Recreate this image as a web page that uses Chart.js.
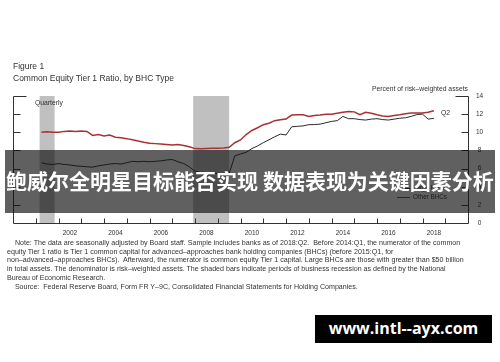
<!DOCTYPE html>
<html><head><meta charset="utf-8">
<script src="https://cdn.jsdelivr.net/npm/chart.js@4.4.1/dist/chart.umd.min.js"></script>
<style>
html,body{margin:0;padding:0;background:#fff;}
body{width:500px;height:362px;position:relative;overflow:hidden;font-family:"Liberation Sans",Arial,sans-serif;color:#333;}
#c{position:absolute;left:0;top:0;width:500px;height:362px;}
.t{position:absolute;white-space:nowrap;line-height:1;}
.note{position:absolute;left:7px;top:239px;font-size:7.1px;line-height:8.7px;color:#333;white-space:nowrap;}
.lg{position:absolute;font-size:6.3px;color:#333;white-space:nowrap;line-height:1;}
.lg i{display:inline-block;width:13px;height:1.5px;vertical-align:middle;margin-right:3px;}
</style></head><body>
<canvas id="c" width="500" height="362"></canvas>
<div class="t" style="left:13px;top:62px;font-size:8.5px;">Figure 1</div>
<div class="t" style="left:13px;top:73.5px;font-size:8.5px;">Common Equity Tier 1 Ratio, by BHC Type</div>
<div class="t" style="left:35px;top:99.5px;font-size:6.8px;">Quarterly</div>
<div class="t" style="right:32px;top:86px;font-size:6.8px;">Percent of risk–weighted assets</div>
<div class="t" style="left:441px;top:109.5px;font-size:6.8px;">Q2</div>
<div class="lg" style="left:397px;top:185px;"><i style="background:#222"></i>Large BHCs</div>
<div class="lg" style="left:397px;top:194px;"><i style="background:#a83232"></i>Other BHCs</div>
<div class="note">
&nbsp;&nbsp;&nbsp;&nbsp;Note: The data are seasonally adjusted by Board staff. Sample includes banks as of 2018:Q2.&nbsp; Before 2014:Q1, the numerator of the common<br>
equity Tier 1 ratio is Tier 1 common capital for advanced–approaches bank holding companies (BHCs) (before 2015:Q1, for<br>
non–advanced–approaches BHCs).&nbsp; Afterward, the numerator is common equity Tier 1 capital. Large BHCs are those with greater than $50 billion<br>
in total assets. The denominator is risk–weighted assets. The shaded bars indicate periods of business recession as defined by the National<br>
Bureau of Economic Research.<br>
&nbsp;&nbsp;&nbsp;&nbsp;Source:&nbsp; Federal Reserve Board, Form FR Y–9C, Consolidated Financial Statements for Holding Companies.
</div>
<div style="position:absolute;left:5px;top:150px;width:490px;height:63px;background:rgba(18,18,18,0.67);"></div>
<div class="t" style="left:0;width:500px;text-align:center;top:170px;font-size:21px;font-weight:bold;color:#fff;font-family:'Noto Sans CJK SC',sans-serif;">鲍威尔全明星目标能否实现 数据表现为关键因素分析</div>
<div style="position:absolute;left:315px;top:315px;width:177px;height:28px;background:#000;"></div>
<div class="t" style="left:315px;width:177px;text-align:center;top:320px;font-size:16px;font-weight:bold;color:#fff;font-family:'Open Sans',sans-serif;">www.intl--ayx.com</div>
<script>
// ---- data ----
const startYear = 2001, startQuarter = 1, endYear = 2018, endQuarter = 2;
const largeBHCs = [6.65,6.5,6.45,6.55, 6.45,6.4,6.3,6.25, 6.2,6.15,6.3,6.4, 6.5,6.55,6.5,6.65,
  6.8,6.75,6.8,6.75, 6.8,6.85,6.95,7.0, 6.75,6.55,6.2,5.7, 5.6,5.55,5.5,5.45,
  5.42,5.45,7.4,7.6, 7.8,8.2,8.5,8.85, 9.17,9.5,9.8,9.7, 10.6,10.66,10.7,10.84,
  10.85,10.9,11.05,11.2, 11.28,11.75,11.5,11.5, 11.4,11.35,11.45,11.5, 11.4,11.35,11.45,11.55,
  11.6,11.75,11.95,12.0, 11.45,11.55];
const otherBHCs = [10.0,10.05,10.0,10.0, 10.1,10.15,10.1,10.15, 10.1,9.65,9.75,9.6, 9.7,9.45,9.4,9.3,
  9.17,9.05,8.9,8.8, 8.75,8.7,8.65,8.6, 8.65,8.55,8.4,8.2, 8.18,8.22,8.25,8.25,
  8.28,8.35,8.85,9.15, 9.75,10.2,10.5,10.84, 11.0,11.28,11.38,11.46, 11.9,11.92,11.94,11.75,
  11.85,11.9,12.0,12.0, 12.1,12.2,12.3,12.25, 11.94,12.2,12.1,11.94, 11.8,11.75,11.85,11.94,
  12.05,12.12,12.12,12.12, 12.2,12.38];
const recessions = [[2001.17, 2001.83], [2007.92, 2009.5]];
const yearLabels = [2002, 2004, 2006, 2008, 2010, 2012, 2014, 2016, 2018];
const yearTicks = [2001,2002,2003,2004,2005,2006,2007,2008,2009,2010,2011,2012,2013,2014,2015,2016,2017,2018,2019];
const yTickValues = [0, 2, 4, 6, 8, 10, 12, 14];
const xMin = 2000, xMax = 2020, yMin = 0, yMax = 14;

// quarter positions (end of quarter)
const qTimes = [];
for (let y = startYear, q = startQuarter; y < endYear || (y === endYear && q <= endQuarter); ) {
  qTimes.push(y + q / 4);
  q++; if (q > 4) { q = 1; y++; }
}
const pts = arr => arr.map((v, i) => ({x: qTimes[i], y: v}));

const framePlugin = {
  id: 'frame',
  beforeDatasetsDraw(chart) {
    const {ctx, chartArea: a, scales: {x}} = chart;
    ctx.save();
    ctx.fillStyle = '#c0c0c0';
    recessions.forEach(([s, e]) => {
      const x0 = x.getPixelForValue(s), x1 = x.getPixelForValue(e);
      ctx.fillRect(x0, a.top, x1 - x0, a.bottom - a.top);
    });
    ctx.restore();
  },
  afterDatasetsDraw(chart) {
    const {ctx, chartArea: a, scales: {x, y}} = chart;
    ctx.save();
    ctx.strokeStyle = '#333'; ctx.lineWidth = 1;
    const L = Math.round(a.left) + 0.5, R = Math.round(a.right) + 0.5, B = Math.round(a.bottom) + 0.5;
    const T = Math.round(y.getPixelForValue(yMax)) + 0.5;
    ctx.beginPath();
    ctx.moveTo(L, T); ctx.lineTo(L, B); ctx.lineTo(R, B); ctx.lineTo(R, T);
    yTickValues.forEach(v => {
      if (v === yMin) return;
      const py = Math.round(y.getPixelForValue(v)) + 0.5;
      const len = v === yMax ? 13 : 7;
      ctx.moveTo(L, py); ctx.lineTo(L + len, py);
      ctx.moveTo(R, py); ctx.lineTo(R - len, py);
    });
    yearTicks.forEach(t => {
      const px = Math.round(x.getPixelForValue(t)) + 0.5;
      ctx.moveTo(px, B); ctx.lineTo(px, B - 5);
    });
    ctx.stroke();
    ctx.restore();
  }
};

new Chart(document.getElementById('c'), {
  type: 'line',
  data: {
    datasets: [
      {label: 'Large BHCs', data: pts(largeBHCs), borderColor: '#2a2a2a', borderWidth: 1, pointRadius: 0, tension: 0},
      {label: 'Other BHCs', data: pts(otherBHCs), borderColor: '#a83232', borderWidth: 1.5, pointRadius: 0, tension: 0}
    ]
  },
  options: {
    responsive: false, animation: false, devicePixelRatio: 1,
    layout: {padding: {left: 13, right: 0, top: 96, bottom: 119}},
    plugins: {legend: {display: false}, tooltip: {enabled: false}},
    scales: {
      x: {
        type: 'linear', min: xMin, max: xMax,
        grid: {display: false, drawTicks: false}, border: {display: false},
        afterBuildTicks: s => { s.ticks = yearLabels.map(v => ({value: v + 0.5})); },
        afterFit: s => { s.height = 20; },
        ticks: {autoSkip: false, maxRotation: 0, padding: 6, color: '#333',
          font: {family: 'Liberation Sans', size: 6.5},
          callback: v => String(Math.floor(v))}
      },
      y: {
        type: 'linear', position: 'right', min: yMin, max: yMax,
        grid: {display: false, drawTicks: false}, border: {display: false},
        afterBuildTicks: s => { s.ticks = yTickValues.map(v => ({value: v})); },
        afterFit: s => { s.width = 32; },
        ticks: {padding: 8, crossAlign: 'center', color: '#333',
          font: {family: 'Liberation Sans', size: 6.5}}
      }
    }
  },
  plugins: [framePlugin]
});
</script>
</body></html>
